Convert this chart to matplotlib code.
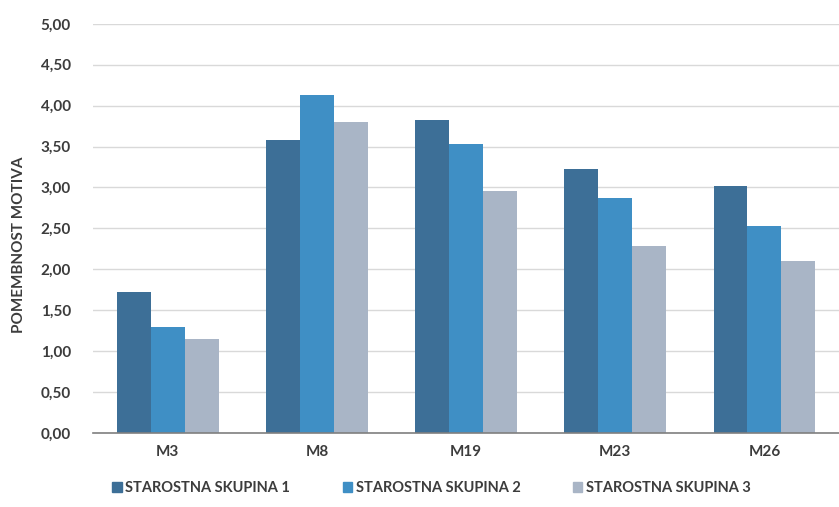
import matplotlib.pyplot as plt
import matplotlib.ticker as mtick
from matplotlib.patches import Patch
import numpy as np

plt.rcParams['font.family'] = ['Lato', 'DejaVu Sans']

categories = ['M3', 'M8', 'M19', 'M23', 'M26']
series_names = ['STAROSTNA SKUPINA 1', 'STAROSTNA SKUPINA 2', 'STAROSTNA SKUPINA 3']
skupina_1 = [1.72, 3.58, 3.83, 3.22, 3.02]
skupina_2 = [1.30, 4.13, 3.53, 2.87, 2.53]
skupina_3 = [1.15, 3.80, 2.96, 2.28, 2.10]

colors = ['#3d6f97', '#3f8fc5', '#a9b5c6']
text_color = '#3c3c3c'

fig = plt.figure(figsize=(8.39, 5.07), dpi=100)
ax = fig.add_axes([0.111, 0.146, 0.889, 0.807])

x = np.arange(len(categories))
width = 0.227
for i, (vals, col) in enumerate(zip([skupina_1, skupina_2, skupina_3], colors)):
    ax.bar(x + (i - 1) * width, vals, width, color=col, zorder=3)

ax.set_xlim(-0.5, len(categories) - 0.5)
ax.set_ylim(0, 5)
ax.yaxis.set_major_locator(mtick.MultipleLocator(0.5))
ax.yaxis.set_major_formatter(mtick.FuncFormatter(lambda v, p: f'{v:.2f}'.replace('.', ',')))
ax.grid(axis='y', color='#d9d9d9', linewidth=1, zorder=0)

ax.set_xticks(x)
ax.set_xticklabels(categories)
ax.tick_params(axis='both', length=0, labelsize=11, colors=text_color)
ax.tick_params(axis='x', pad=9)
ax.tick_params(axis='y', pad=16)
for lbl in ax.get_xticklabels() + ax.get_yticklabels():
    lbl.set_fontweight('bold')

for side in ['top', 'right', 'left']:
    ax.spines[side].set_visible(False)
ax.spines['bottom'].set_color('#7f7f7f')
ax.spines['bottom'].set_linewidth(1.2)
ax.spines['bottom'].set_zorder(4)

ax.set_ylabel('POMEMBNOST MOTIVA', fontsize=11, color=text_color, fontweight='bold')
ax.yaxis.set_label_coords(-0.09, 0.46)

handles = [Patch(color=c, label=n) for c, n in zip(colors, series_names)]
fig.legend(handles=handles, loc='lower left', bbox_to_anchor=(0.118, -0.003), ncol=3, frameon=False,
           prop={'size': 10.5, 'weight': 'bold'}, handlelength=0.65, handleheight=0.65,
           handletextpad=0.25, columnspacing=3.6, labelcolor=text_color)

fig.savefig('out.png', dpi=100, facecolor='white')
